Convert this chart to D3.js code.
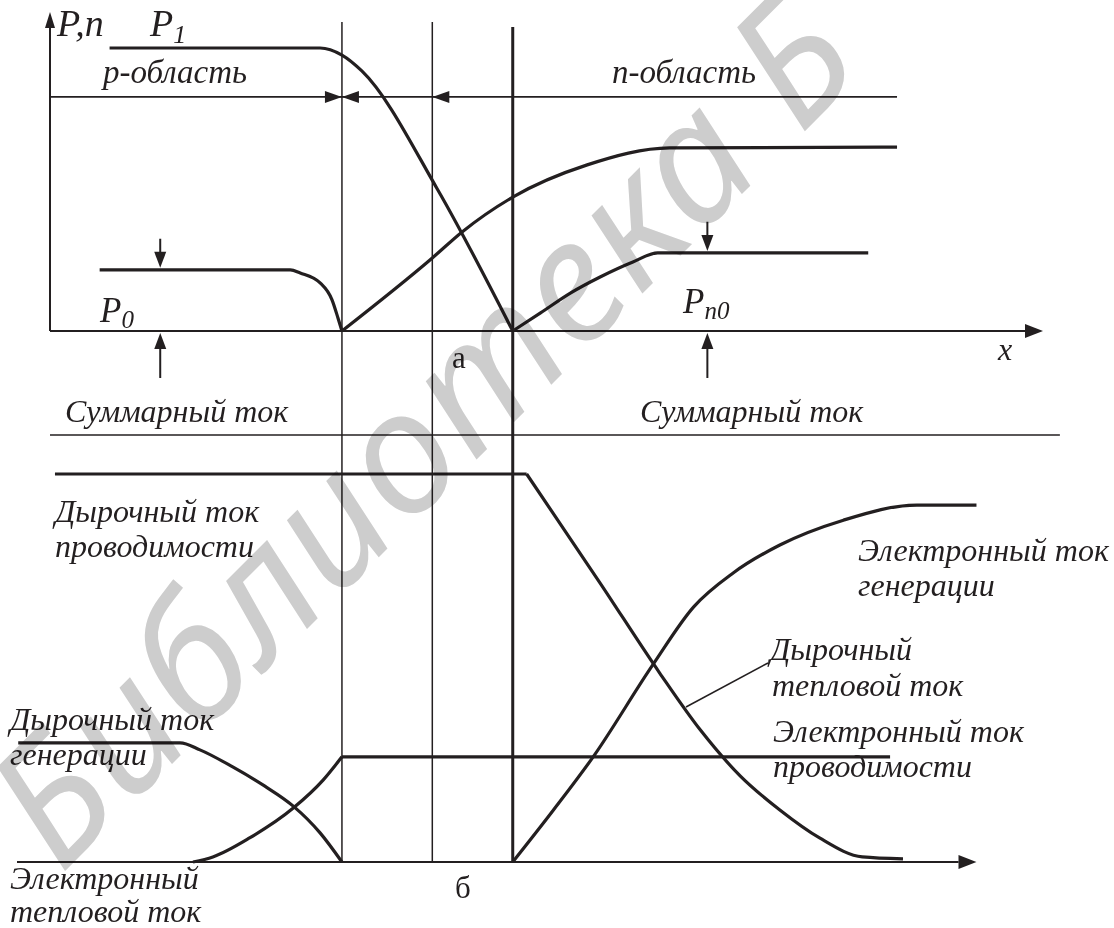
<!DOCTYPE html>
<html>
<head>
<meta charset="utf-8">
<script src="https://cdn.jsdelivr.net/npm/d3@7"></script>
<style>
  body { margin: 0; background: #fff }
</style>
</head>
<body>
<svg id="chart" width="1114" height="928"></svg>
<script>
// Position along the sample in arbitrary units (0 = the P,n axis)
// boundaries of the space-charge region: p edge, metallurgical junction, n edge
const boundaryX = [29.4, 38.5, 46.6]
const boundaryTop = [1.092, 1.092, 1.074]
const boundaryWidth = [1.5, 1.5, 3]

// a) carrier concentrations, relative to P1
const holesP = [[6.0, 1], [27.2, 1], [29.4, 0.975], [31.4, 0.919], [39.0, 0.502], [46.6, 0]]
const electronsN = [[29.4, 0], [38.5, 0.258], [41.5, 0.35], [46.6, 0.473], [54.1, 0.587], [62.4, 0.647], [85.3, 0.65]]
const minorityP = [[5.0, 0.216], [24.2, 0.216], [25.2, 0.205], [27.2, 0.17], [28.4, 0.11], [29.0, 0.046], [29.4, 0]]
const minorityN = [[46.6, 0], [49.4, 0.064], [52.4, 0.134], [55.4, 0.191], [58.7, 0.244], [61.2, 0.276], [82.4, 0.276]]

// b) current components, relative to the total current
const holeCondFlat = [[0.5, 1], [48.0, 1]]
const holeCondDrop = [[48.0, 1], [55.4, 0.719], [61.4, 0.487], [65.5, 0.34], [69.5, 0.222], [73.5, 0.134], [77.5, 0.062], [81.8, 0.013], [85.9, 0.008]]
const electronGen = [[46.6, 0], [50.7, 0.134], [54.7, 0.271], [60.7, 0.508], [64.8, 0.657], [68.8, 0.745], [73.5, 0.817], [79.9, 0.881], [87.3, 0.92], [93.3, 0.92]]
const electronCondRise = [[14.4, 0], [16.4, 0.013], [20.1, 0.062], [24.5, 0.139], [27.5, 0.211], [29.4, 0.271]]
const electronCondFlat = [[29.4, 0.271], [84.6, 0.271]]
const holeGen = [[-3.2, 0.307], [13.1, 0.307], [15.1, 0.289], [18.4, 0.245], [21.6, 0.196], [24.5, 0.144], [27.2, 0.075], [29.4, 0]]

// equilibrium level markers (x, level) for P0 and Pn0
const levelMarks = [[11.1, 0.216], [66.2, 0.276]]

const ink = "#231f20"
const svg = d3.select("#chart")

const x = d3.scaleLinear().domain([0, 100]).range([50, 1043])
const yTop = d3.scaleLinear().domain([0, 1]).range([331, 48])
const yBot = d3.scaleLinear().domain([0, 1]).range([862, 474])

const lineTop = d3.line().x(d => x(d[0])).y(d => yTop(d[1])).curve(d3.curveMonotoneX)
const lineBot = d3.line().x(d => x(d[0])).y(d => yBot(d[1])).curve(d3.curveMonotoneX)

function seg(x1, y1, x2, y2, w) {
  svg.append("line")
    .attr("x1", x1).attr("y1", y1).attr("x2", x2).attr("y2", y2)
    .attr("stroke", ink).attr("stroke-width", w)
}

// filled arrowhead with tip at (tx, ty) pointing in direction (dx, dy)
function head(tx, ty, dx, dy, len, half) {
  let bx = tx - dx * len, by = ty - dy * len
  let px = -dy * half, py = dx * half
  svg.append("path")
    .attr("d", `M${tx},${ty}L${bx + px},${by + py}L${bx - px},${by - py}Z`)
    .attr("fill", ink)
}

// Vertical boundaries through both panels
boundaryX.forEach((b, i) => {
  seg(x(b), yTop(boundaryTop[i]), x(b), yBot(0), boundaryWidth[i])
})

// --- panel a ---
seg(x(0), yTop(0), x(0), yTop(1.1), 2)
head(x(0), yTop(1.127), 0, -1, 16, 5)
seg(x(0), yTop(0), x(98.2), yTop(0), 2.2)
head(x(100), yTop(0), 1, 0, 18, 7)

// region extent arrows
const regionY = yTop(0.827)
seg(x(0), regionY, x(85.3), regionY, 1.8)
head(x(boundaryX[0]), regionY, 1, 0, 17, 6)
head(x(boundaryX[0]), regionY, -1, 0, 17, 6)
head(x(boundaryX[1]), regionY, -1, 0, 17, 6)

// equilibrium level markers
levelMarks.forEach(([mx, lv]) => {
  seg(x(mx), yTop(lv + 0.11), x(mx), yTop(lv) - 14, 2)
  head(x(mx), yTop(lv) - 2, 0, 1, 16, 6)
  seg(x(mx), yTop(-0.166), x(mx), yTop(0) + 14, 2)
  head(x(mx), yTop(0) + 2, 0, -1, 16, 6)
})

svg.append("g")
  .selectAll("path")
  .data([holesP, electronsN, minorityP, minorityN])
  .join("path")
  .attr("d", lineTop)
  .attr("fill", "none")
  .attr("stroke", ink)
  .attr("stroke-width", 3.2)

// --- panel b ---
seg(17, yBot(0), x(91.5), yBot(0), 2.2)
head(x(93.3), yBot(0), 1, 0, 18, 7)
seg(x(0), 435, x(101.7), 435, 1.6)

svg.append("g")
  .selectAll("path")
  .data([holeCondFlat, holeCondDrop, electronGen, electronCondRise, electronCondFlat, holeGen])
  .join("path")
  .attr("d", lineBot)
  .attr("fill", "none")
  .attr("stroke", ink)
  .attr("stroke-width", 3.2)

// leader for "Дырочный тепловой ток"
seg(768, 663, 686, 707, 1.5)

// --- labels ---
function label(tx, ty, main, size, sub, italic = true) {
  let t = svg.append("text")
    .attr("x", tx).attr("y", ty)
    .style("font-family", '"Liberation Serif"')
    .style("font-style", italic ? "italic" : "normal")
    .style("font-size", size + "px")
    .style("fill", ink)
  if (!sub) return t.text(main)
  t.append("tspan").text(main)
  t.append("tspan")
    .attr("dy", sub.dy)
    .style("font-size", sub.size + "px")
    .text(sub.t)
  return t
}

label(57, 36, "P,n", 38)
label(150, 36, "P", 38, {t: "1", dy: 7, size: 26})
label(103, 83, "p-область", 33)
label(612, 83, "n-область", 33)
label(100, 322, "P", 35, {t: "0", dy: 6, size: 25})
label(683, 313, "P", 35, {t: "n0", dy: 6, size: 25})
label(998, 360, "x", 32)
label(452, 368, "а", 31, null, false)
label(455, 898, "б", 31, null, false)

const captions = [
  [65, 422, "Суммарный ток"],
  [640, 422, "Суммарный ток"],
  [55, 522, "Дырочный ток"],
  [55, 557, "проводимости"],
  [858, 561, "Электронный ток"],
  [858, 596, "генерации"],
  [770, 660, "Дырочный"],
  [772, 696, "тепловой ток"],
  [773, 742, "Электронный ток"],
  [773, 777, "проводимости"],
  [10, 730, "Дырочный ток"],
  [10, 765, "генерации"],
  [10, 889, "Электронный"],
  [10, 922, "тепловой ток"]
]
captions.forEach(c => label(c[0], c[1], c[2], 32))

// Watermark: painted last, multiplied so it sits visually behind the ink
svg.append("text")
  .attr("transform", "translate(61,875) rotate(-45)")
  .attr("textLength", 1140)
  .attr("lengthAdjust", "spacing")
  .style("font-family", '"Noto Sans"')
  .style("font-style", "italic")
  .style("font-size", "170px")
  .style("fill", "#cdcdcd")
  .style("mix-blend-mode", "multiply")
  .text("Библиотека Б")
</script>
</body>
</html>
